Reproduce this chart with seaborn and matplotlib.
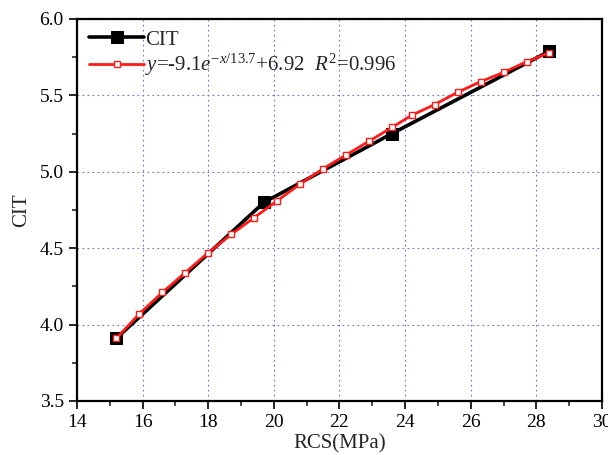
import matplotlib
matplotlib.use("Agg")
import matplotlib.pyplot as plt
import seaborn as sns
import pandas as pd
from matplotlib.ticker import MultipleLocator

sns.set_theme(style="white")
plt.rcParams['font.family'] = ['Liberation Serif', 'DejaVu Serif']
plt.rcParams['mathtext.fontset'] = 'custom'
plt.rcParams['mathtext.rm'] = 'Liberation Serif'
plt.rcParams['mathtext.it'] = 'Liberation Serif:italic'

# measured data
cit_x = [15.2, 19.7, 23.6, 28.4]
cit_y = [3.91, 4.80, 5.25, 5.79]

# fitted curve points
fit_x = [15.2, 15.9, 16.6, 17.3, 18.0, 18.7, 19.4, 20.1, 20.8, 21.5,
         22.2, 22.9, 23.6, 24.2, 24.9, 25.6, 26.3, 27.0, 27.7, 28.4]
fit_y = [3.91, 4.07, 4.21, 4.34, 4.47, 4.59, 4.70, 4.81, 4.92, 5.02,
         5.11, 5.20, 5.29, 5.37, 5.44, 5.52, 5.59, 5.65, 5.72, 5.78]

x_ticks = [14, 16, 18, 20, 22, 24, 26, 28, 30]
y_ticks = [3.5, 4.0, 4.5, 5.0, 5.5, 6.0]

df_cit = pd.DataFrame({"x": cit_x, "y": cit_y})
df_fit = pd.DataFrame({"x": fit_x, "y": fit_y})

fig = plt.figure(figsize=(6.08, 4.55), dpi=100)
ax = fig.add_axes([0.1266, 0.1187, 0.8635, 0.8396])

sns.lineplot(data=df_cit, x="x", y="y", ax=ax, color="black", lw=2.6,
             marker="s", markersize=8, markerfacecolor="black",
             markeredgecolor="black", label="CIT", zorder=3)
sns.lineplot(data=df_fit, x="x", y="y", ax=ax, color="#ff1a1a", lw=2.0,
             marker="s", markersize=5, markerfacecolor="white",
             markeredgecolor="#ff1a1a", markeredgewidth=1.0,
             label=r'$\mathit{y}$=-9.1$\mathit{e}^{\mathrm{-}x/13.7}$+6.92  $\mathit{R}^{2}$=0.996',
             zorder=4)

ax.set_xlim(14, 30)
ax.set_ylim(3.5, 6.0)
ax.set_xticks(x_ticks)
ax.set_yticks(y_ticks)
ax.set_xticklabels([str(t) for t in x_ticks])
ax.set_yticklabels([f"{t:.1f}" for t in y_ticks])
ax.xaxis.set_minor_locator(MultipleLocator(1))
ax.yaxis.set_minor_locator(MultipleLocator(0.25))
ax.tick_params(axis='both', which='major', direction='out', length=6, width=1.2,
               labelsize=14, colors='black', bottom=True, left=True, top=False, right=False)
ax.tick_params(axis='both', which='minor', direction='out', length=3.5, width=1.2,
               bottom=True, left=True, top=False, right=False)
for s in ax.spines.values():
    s.set_color('black')
    s.set_linewidth(1.6)

ax.grid(True, which='major', color='#6f6fc8', linestyle=(0, (1.5, 3)), linewidth=0.8)
ax.set_axisbelow(True)

ax.set_xlabel("RCS(MPa)", fontsize=15, labelpad=2)
ax.set_ylabel("CIT", fontsize=15, labelpad=6)

leg = ax.legend(loc='upper left', frameon=False, fontsize=15, handlelength=2.6,
                handletextpad=0.05, bbox_to_anchor=(-0.012, 1.02), labelspacing=0.12)

fig.savefig("out.png", dpi=100)
